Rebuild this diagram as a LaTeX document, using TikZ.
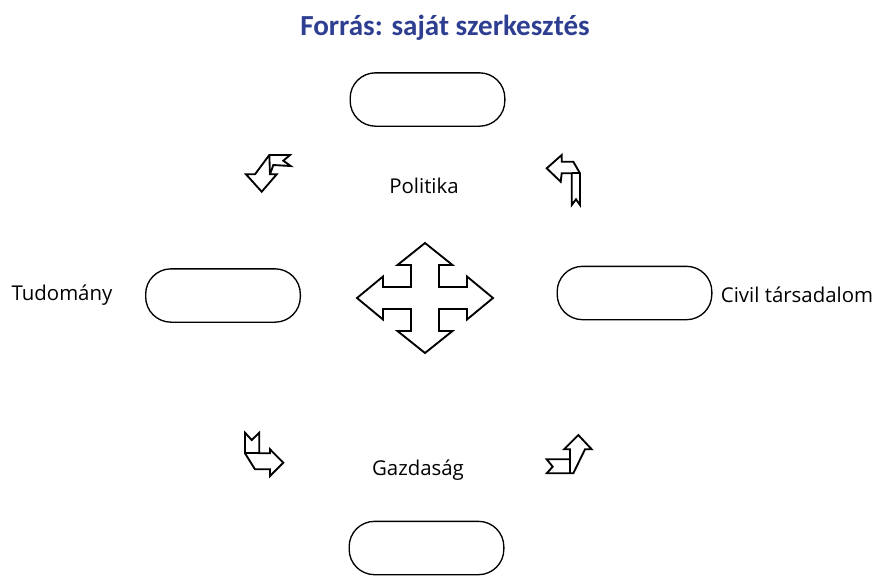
\documentclass[tikz,border=0pt]{standalone}
\usepackage{fontspec}
\setmainfont{Open Sans}
\newfontfamily\titlefont{Carlito}
\definecolor{titleblue}{RGB}{46,62,145}

\tikzset{every picture/.style={line width=1pt}}
\tikzset{
  pill/.style={draw, rounded corners=19pt, minimum width=116pt, minimum height=40pt, inner sep=0pt},
  lbl/.style={font=\fontsize{15.3}{18}\selectfont},
  bentarrow/.style={draw, line width=1.4pt, line join=miter, fill=white},
}

\begin{document}
\begin{tikzpicture}[x=0.75pt,y=0.75pt,yscale=-1,xscale=1]
	\useasboundingbox (0,0) rectangle (877,576);

	% Title
	\node[text=titleblue, font=\titlefont\bfseries\fontsize{21.8}{26}\selectfont] (title) at (445,28) {Forrás: saját szerkesztés};

	%Shape: Rounded Rectangles
	\node[pill] (polbox) at (427.5,99.5) {};
	\node[pill] (tudbox) at (223,295.5) {};
	\node[pill] (civbox) at (634.5,293) {};
	\node[pill] (gazbox) at (426.5,548) {};

	% Text Node
	\node[lbl] (pol) at (424,186) {Politika};
	% Text Node
	\node[lbl] (tud) at (62,295) {Tudomány};
	% Text Node
	\node[lbl] (civ) at (797,295) {Civil társadalom};
	% Text Node
	\node[lbl] (gaz) at (418,470) {Gazdaság};

	%Shape: Quad Arrow
	\draw[bentarrow] (425,243) -- (452.5,265) -- (439,265) -- (439,287) -- (467,287) -- (467,276.5) -- (493,298) -- (467,319.5) -- (467,309) -- (439,309) -- (439,331) -- (452.5,331) -- (425,353) -- (397.5,331) -- (411,331) -- (411,309) -- (383,309) -- (383,319.5) -- (357,298) -- (383,276.5) -- (383,287) -- (411,287) -- (411,265) -- (397.5,265) -- cycle;

	%Shape: Bent Arrow (top left)
	\draw[bentarrow] (261.7,191.7) -- (246,174.3) -- (255,174.3) -- (269.3,155) -- (290,155) -- (283.3,160.7) -- (290.7,166) -- (273.3,165) -- (270,174.3) -- (276.7,174.3) -- cycle;
	\draw[line width=1.4pt] (269.3,155) -- (270,174.3);

	%Shape: Bent Arrow (top right)
	\draw[bentarrow] (546.7,168.3) -- (561.7,155) -- (561.7,161.7) -- (573.3,161.7) -- (580,173.3) -- (580,205) -- (576,199.3) -- (571.7,205) -- (571.7,173.3) -- (561.7,173.3) -- (560.7,181.7) -- cycle;
	\draw[line width=1.4pt] (571.7,173.3) -- (580,173.3);

	%Shape: Bent Arrow (bottom left)
	\draw[bentarrow] (245,432.7) -- (251.7,440) -- (259.3,432.7) -- (259.3,453.3) -- (270,453.3) -- (270,449.3) -- (283.3,462.7) -- (270,476) -- (270,469.3) -- (255,469.3) -- (245,453.3) -- cycle;
	\draw[line width=1.4pt] (245,453.3) -- (259.3,453.3);

	%Shape: Bent Arrow (bottom right)
	\draw[bentarrow] (578.3,435) -- (591.7,449.3) -- (585,449.3) -- (573.3,473.3) -- (546.7,473.3) -- (552.7,466.7) -- (546.7,459.3) -- (570,459.3) -- (570,449.3) -- (564,449.3) -- cycle;
	\draw[line width=1.4pt] (570,459.3) -- (570,473.3);

\end{tikzpicture}
\end{document}
